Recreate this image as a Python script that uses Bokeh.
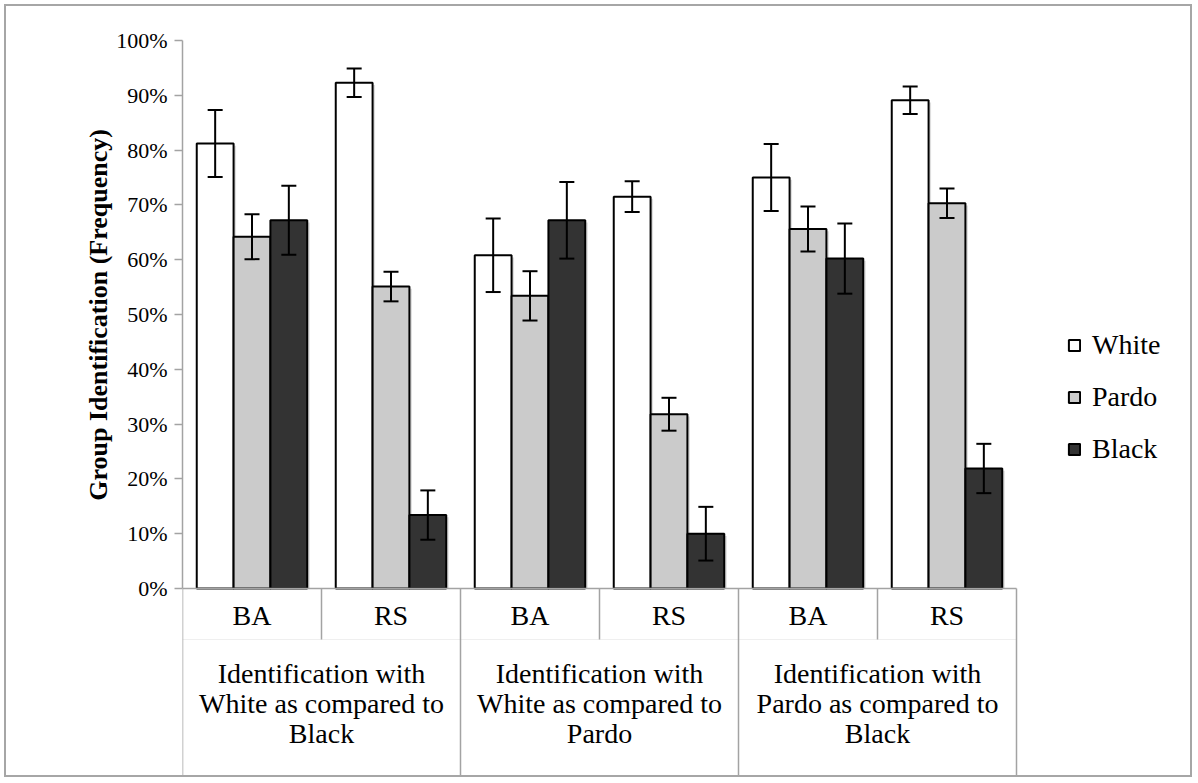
from bokeh.plotting import figure
from bokeh.models import (ColumnDataSource, Range1d, LinearAxis, FixedTicker,
                          PrintfTickFormatter, Whisker, TeeHead, Legend, LegendItem, Title)
from bokeh.core.properties import value
from bokeh.embed import file_html
from bokeh.resources import INLINE

# ---------------- data ----------------
groups = ["Identification with\nWhite as compared to\nBlack",
          "Identification with\nWhite as compared to\nPardo",
          "Identification with\nPardo as compared to\nBlack"]
subcats = ["BA", "RS", "BA", "RS", "BA", "RS"]
series = ["White", "Pardo", "Black"]

white = [81.2, 92.3, 60.8, 71.5, 75.0, 89.1]
pardo = [64.2, 55.1, 53.4, 31.8, 65.6, 70.3]
black = [67.2, 13.4, 67.2, 10.0, 60.2, 21.9]
white_err = [6.1, 2.6, 6.7, 2.8, 6.1, 2.5]
pardo_err = [4.1, 2.7, 4.5, 3.0, 4.1, 2.7]
black_err = [6.3, 4.5, 7.0, 4.9, 6.4, 4.5]

y_ticks = [0, 10, 20, 30, 40, 50, 60, 70, 80, 90, 100]

# ---------------- style ----------------
FONT = "Liberation Serif"
colors = ["#ffffff", "#cbcbcb", "#333333"]
AXIS_COL = "#a3a3a3"
W, H = 1188, 773
PAGE_OFF = 6                  # 4px margin + 2px border
LEFT, TOP = 182 - PAGE_OFF, 40 - PAGE_OFF
PX_PER_PCT = 5.48             # vertical scale
PX_PER_CAT = 139.0            # width of one sub-category
frame_w = W - LEFT
frame_h = H - TOP
y_end = 100.0
y_start = y_end - frame_h / PX_PER_PCT
x_end = frame_w / PX_PER_CAT

p = figure(width=W, height=H, output_backend="svg", toolbar_location=None,
           x_range=Range1d(0, x_end), y_range=Range1d(y_start, y_end),
           x_axis_type=None, y_axis_type=None,
           min_border_left=LEFT, min_border_top=TOP, min_border_right=0,
           min_border_bottom=0, margin=(4, 4, 4, 4))
p.outline_line_color = None
p.xgrid.visible = False
p.ygrid.visible = False
p.background_fill_color = "white"
p.border_fill_color = "white"
p.styles = {"border": "2px solid #a6a6a6"}

yaxis = LinearAxis(ticker=FixedTicker(ticks=y_ticks),
                   formatter=PrintfTickFormatter(format="%d%%"),
                   bounds=(0, 100))
yaxis.axis_line_color = AXIS_COL
yaxis.axis_line_width = 1.5
yaxis.major_tick_line_color = AXIS_COL
yaxis.major_tick_line_width = 1.5
yaxis.major_tick_out = 8
yaxis.major_tick_in = 0
yaxis.minor_tick_line_color = None
yaxis.major_label_text_font = FONT
yaxis.major_label_text_font_size = "22px"
yaxis.major_label_text_color = "black"
yaxis.major_label_standoff = 7
p.add_layout(yaxis, "left")

# axis title, centred on the 0-100 % span of the value axis
TITLE_PX = 26
frame_bottom_page = PAGE_OFF + H
title_center_page = 40 + (y_end - 50) * PX_PER_PCT
title_len = 14.33 * TITLE_PX
ytitle = Title(text="Group Identification (Frequency)", align="left",
               offset=frame_bottom_page - (title_center_page + title_len / 2),
               text_font=FONT, text_font_size=f"{TITLE_PX}px", text_font_style="bold",
               text_color="black", standoff=2)
p.add_layout(ytitle, "left")

n = len(subcats)
centers = [i + 0.5 for i in range(n)]
bw = 0.265
offsets = [-bw, 0.0, bw]
vals = [white, pardo, black]
errs = [white_err, pardo_err, black_err]

# soft shadow behind the bars
shadow_dx = 2.5 / PX_PER_CAT
for k in range(3):
    xs = [c + offsets[k] + shadow_dx for c in centers]
    p.vbar(x=xs, top=[v - 0.4 for v in vals[k]], bottom=0, width=bw,
           fill_color="#dedede", line_color=None)

renderers = []
for k in range(3):
    xs = [c + offsets[k] for c in centers]
    src = ColumnDataSource(dict(x=xs, top=vals[k],
                                upper=[v + e for v, e in zip(vals[k], errs[k])],
                                lower=[v - e for v, e in zip(vals[k], errs[k])]))
    r = p.vbar(x="x", top="top", bottom=0, width=bw, source=src,
               fill_color=colors[k], line_color="black", line_width=2)
    renderers.append(r)
    wk = Whisker(base="x", upper="upper", lower="lower", source=src,
                 line_color="black", line_width=2, level="overlay",
                 upper_head=TeeHead(size=15, line_color="black", line_width=2),
                 lower_head=TeeHead(size=15, line_color="black", line_width=2))
    p.add_layout(wk)

# ---------------- category axis (multi-level, drawn in data space) ----------------
sub_sep_depth = 51 / PX_PER_PCT
p.segment(x0=[0], y0=[-sub_sep_depth], x1=[n], y1=[-sub_sep_depth],
          line_color="#efefef", line_width=1)
p.segment(x0=[0], y0=[0], x1=[n], y1=[0], line_color=AXIS_COL, line_width=1.5)
sub_sep_x = [i for i in range(1, n) if i % 2 == 1]
p.segment(x0=sub_sep_x, y0=[0] * len(sub_sep_x), x1=sub_sep_x,
          y1=[-sub_sep_depth] * len(sub_sep_x), line_color=AXIS_COL, line_width=1.5)
grp_sep_x = [i for i in range(0, n + 1, 2)]
p.segment(x0=grp_sep_x, y0=[0] * len(grp_sep_x), x1=grp_sep_x,
          y1=[y_start] * len(grp_sep_x), line_color=AXIS_COL, line_width=1.5)

p.text(x=centers, y=[-27 / PX_PER_PCT] * n, text=subcats,
       text_font=value(FONT), text_font_size="28px", text_color="black",
       text_align="center", text_baseline="middle")
p.text(x=[2 * g + 1 for g in range(len(groups))],
       y=[-115 / PX_PER_PCT] * len(groups), text=groups,
       text_font=value(FONT), text_font_size="28px", text_color="black",
       text_align="center", text_baseline="middle", text_line_height=0.97)

# ---------------- legend ----------------
legend = Legend(items=[LegendItem(label=series[k], renderers=[renderers[k]]) for k in range(3)],
                location=(885, 314),
                glyph_width=14, glyph_height=14, label_standoff=11, spacing=20,
                padding=0, margin=0, border_line_color=None, background_fill_alpha=0,
                label_text_font=FONT, label_text_font_size="28px", label_text_color="black")
p.add_layout(legend)

open("out.html", "w").write(file_html(p, INLINE))
